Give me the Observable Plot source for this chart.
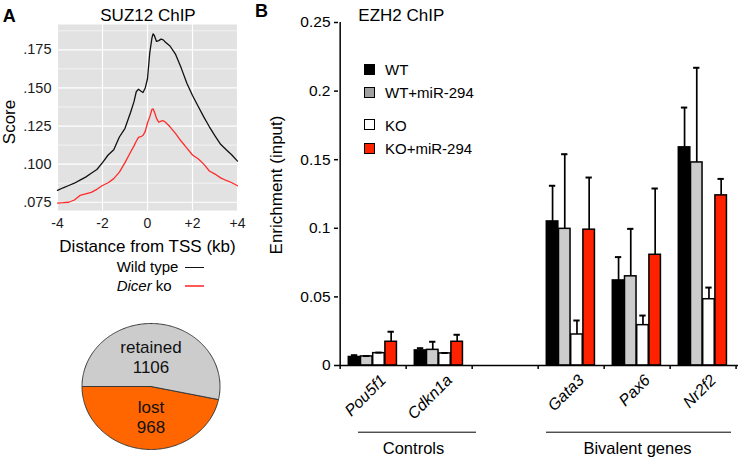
<!DOCTYPE html>
<html><head><meta charset="utf-8">
<script src="https://cdn.jsdelivr.net/npm/d3@7"></script>
<script src="https://cdn.jsdelivr.net/npm/@observablehq/plot@0.6"></script>
<style>
body{margin:0;background:#fff;}
#root{position:relative;width:740px;height:460px;font-family:Arial,"Liberation Sans",sans-serif;color:#000;overflow:hidden;background:#fff}
.t{position:absolute;white-space:nowrap;line-height:1;}
.box{position:absolute;}
</style></head><body><div id="root"></div>
<script>
// ---------- Panel A: SUZ12 ChIP profile ----------
const distKb = [-4,-3.75,-3.5,-3.25,-3,-2.75,-2.5,-2.25,-2,-1.75,-1.5,-1.25,-1,-0.75,-0.6,-0.5,-0.4,-0.3,-0.2,-0.1,0,0.1,0.2,0.25,0.3,0.4,0.5,0.6,0.7,0.8,1,1.25,1.5,1.75,2,2.25,2.5,2.75,3,3.25,3.5,3.75,4];
const wildTypeScore = [0.0828,0.0845,0.0860,0.0875,0.0895,0.0915,0.0940,0.0965,0.1010,0.1060,0.1095,0.1178,0.1235,0.1340,0.1410,0.1475,0.1492,0.1480,0.1470,0.1500,0.1560,0.1730,0.1830,0.1855,0.1845,0.1805,0.1810,0.1820,0.1815,0.1800,0.1775,0.1720,0.1630,0.1530,0.1450,0.1380,0.1310,0.1245,0.1185,0.1130,0.1095,0.1060,0.1020];
const dicerKoScore = [0.0745,0.0747,0.0750,0.0765,0.0795,0.0805,0.0815,0.0835,0.0860,0.0878,0.0905,0.0948,0.1010,0.1080,0.1120,0.1150,0.1176,0.1180,0.1188,0.1215,0.1270,0.1310,0.1360,0.1362,0.1345,0.1300,0.1275,0.1282,0.1285,0.1275,0.1245,0.1200,0.1150,0.1105,0.1060,0.1035,0.1000,0.0955,0.0935,0.0910,0.0893,0.0878,0.0858];
const yTicksA = [0.075,0.1,0.125,0.15,0.175];
const yTickLabelsA = [".075",".100",".125",".150",".175"];
const yMinorA = [0.0875,0.1125,0.1375,0.1625,0.1875];
const xTicksA = [-4,-2,0,2,4];
const xTickLabelsA = ["-4","-2","0","+2","+4"];

// ---------- Pie ----------
const pieLabels = ["lost","retained"];
const pieValues = [968,1106];
const pieColors = ["#ff6600","#cccccc"];

// ---------- Panel B: EZH2 ChIP ----------
const slots = ["Pou5f1","Cdkn1a"," ","Gata3","Pax6","Nr2f2"];
const genes = ["Pou5f1","Cdkn1a","Gata3","Pax6","Nr2f2"];
const conditions = ["WT","WT+miR-294","KO","KO+miR-294"];
const wtVals     = [0.0062,0.0110,0.1050,0.0620,0.1590];
const wtMirVals  = [0.0066,0.0114,0.0996,0.0650,0.1480];
const koVals     = [0.0090,0.0088,0.0226,0.0294,0.0483];
const koMirVals  = [0.0173,0.0173,0.0990,0.0807,0.1240];
const wtErr      = [0.0013,0.0016,0.0260,0.0170,0.0290];
const wtMirErr   = [0.0003,0.0059,0.0544,0.0346,0.0690];
const koErr      = [0.0004,0.0003,0.0102,0.0070,0.0085];
const koMirErr   = [0.0073,0.0051,0.0380,0.0483,0.0120];
const barFills = ["#000000","#cccccc","#ffffff","#ff2200"];
const legendFills = ["#000000","#a0a0a0","#ffffff","#ff2200"];
const yTicksB = [0,0.05,0.1,0.15,0.2,0.25];
const groupNames = ["Controls","Bivalent genes"];
const groupFirst = ["Pou5f1","Gata3"];
const groupLast = ["Cdkn1a","Nr2f2"];
const groupLabelAt = ["Cdkn1a","Pax6"];

const FONT = 'Arial, "Liberation Sans", sans-serif';
const root = document.getElementById("root");

function txt(str, x, baseline, fs, opt = {}) {
  const d = document.createElement("div");
  d.className = "t";
  d.innerHTML = str;
  d.style.fontSize = fs + "px";
  d.style.left = x + "px";
  d.style.top = (baseline - 0.8465 * fs) + "px";
  if (opt.bold) d.style.fontWeight = "bold";
  if (opt.anchor === "middle") d.style.transform = "translateX(-50%)";
  if (opt.anchor === "end") d.style.transform = "translateX(-100%)";
  root.appendChild(d);
  return d;
}
function vtxt(str, cx, cy, fs) {
  const d = document.createElement("div");
  d.className = "t";
  d.textContent = str;
  d.style.fontSize = fs + "px";
  d.style.left = cx + "px";
  d.style.top = cy + "px";
  d.style.transform = "translate(-50%,-50%) rotate(-90deg)";
  root.appendChild(d);
}
function place(el, left, top) {
  const w = document.createElement("div");
  w.className = "box";
  w.style.left = left + "px";
  w.style.top = top + "px";
  w.appendChild(el);
  root.appendChild(w);
}
function hline(x1, x2, y, color, sw) {
  const d = document.createElement("div");
  d.className = "box";
  d.style.left = x1 + "px";
  d.style.width = (x2 - x1) + "px";
  d.style.top = (y - sw / 2) + "px";
  d.style.height = sw + "px";
  d.style.background = color;
  root.appendChild(d);
}

// ----- Panel A line chart -----
const profile = distKb.map((k, i) => ({k, wt: wildTypeScore[i], ko: dicerKoScore[i]}));
const plotA = Plot.plot({
  width: 245, height: 232,
  marginLeft: 57, marginRight: 8, marginTop: 24, marginBottom: 22,
  x: {domain: [-4, 4]},
  y: {domain: [0.0696, 0.1916]},
  style: {fontSize: "14.5px", fontFamily: FONT, color: "#1a1a1a", background: "transparent", overflow: "visible"},
  marks: [
    Plot.frame({fill: "#e2e2e2", stroke: "none"}),
    Plot.ruleY(yMinorA, {stroke: "white", strokeWidth: 0.6}),
    Plot.ruleY(yTicksA, {stroke: "white", strokeWidth: 1.2}),
    Plot.ruleX(xTicksA, {stroke: "white", strokeWidth: 1.2}),
    Plot.line(profile, {x: "k", y: "wt", stroke: "#111", strokeWidth: 1.3}),
    Plot.line(profile, {x: "k", y: "ko", stroke: "#ff2a2a", strokeWidth: 1.3}),
    Plot.axisY({ticks: yTicksA, tickSize: 0, tickPadding: 6, label: null,
      tickFormat: d => yTickLabelsA[yTicksA.indexOf(d)]}),
    Plot.axisX({ticks: xTicksA, tickSize: 0, tickPadding: 8, label: null, fontSize: 14,
      tickFormat: d => xTickLabelsA[xTicksA.indexOf(d)]})
  ]
});
place(plotA, 0, 0);

// ----- Pie -----
const total = d3.sum(pieValues);
const pieStart = Math.PI; // boundary on the left
let acc = pieStart;
const slices = pieValues.map((v, i) => {
  const a0 = acc, a1 = acc + 2 * Math.PI * v / total;
  acc = a1;
  const pts = [{x: 0, y: 0}];
  const n = Math.max(2, Math.ceil((a1 - a0) / (Math.PI / 180)));
  for (let j = 0; j <= n; j++) {
    const a = a0 + (a1 - a0) * j / n;
    pts.push({x: Math.cos(a), y: Math.sin(a)});
  }
  pts.push({x: 0, y: 0});
  const mid = (a0 + a1) / 2;
  return {pts, label: pieLabels[i] + "\n" + pieValues[i], lx: 0, ly: Math.sin(mid) * 0.48, color: pieColors[i]};
});
const plotPie = Plot.plot({
  width: 245, height: 160, margin: 0,
  x: {domain: [-1, 1], range: [81.5, 219.5], axis: null},
  y: {domain: [-1, 1], range: [149, 23], axis: null},
  style: {fontFamily: FONT, color: "#000", background: "transparent", overflow: "visible"},
  marks: [
    ...slices.map(s => Plot.line(s.pts, {x: "x", y: "y", fill: s.color, stroke: "#3a3a3a", strokeWidth: 1})),
    Plot.text(slices, {x: "lx", y: "ly", text: "label", fontSize: 17, lineHeight: 1.2, fill: "#111"})
  ]
});
place(plotPie, 0, 300);

// ----- Panel B bar chart -----
const seriesVals = [wtVals, wtMirVals, koVals, koMirVals];
const seriesErr = [wtErr, wtMirErr, koErr, koMirErr];
const rows = [];
genes.forEach((g, gi) => conditions.forEach((c, ci) =>
  rows.push({gene: g, cond: c, ci, v: seriesVals[ci][gi], top: seriesVals[ci][gi] + seriesErr[ci][gi]})));
const innerW = 490 - 88 - 2;
const bw = innerW / slots.length;
const s0 = 8.3, bwBar = 12.2;
const barMarks = [], errMarks = [];
conditions.forEach((c, ci) => {
  const data = rows.filter(d => d.ci === ci);
  const center = s0 + bwBar * (ci + 0.5);
  errMarks.push(Plot.ruleX(data, {x: "gene", y1: "v", y2: "top", dx: center - bw / 2, stroke: "#000", strokeWidth: 1.7}));
  errMarks.push(Plot.tickY(data, {x: "gene", y: "top", insetLeft: center - 3.5, insetRight: bw - center - 3.5, stroke: "#000", strokeWidth: 2}));
  barMarks.push(Plot.barY(data, {x: "gene", y1: 0, y2: "v", fill: barFills[ci], stroke: "#000", strokeWidth: 1.5,
    insetLeft: s0 + bwBar * ci, insetRight: bw - s0 - bwBar * (ci + 1)}));
});
const groups = groupNames.map((n, i) => ({name: n, first: groupFirst[i], last: groupLast[i], at: groupLabelAt[i]}));
const ctrl = groups.filter(g => g.name === "Controls");
const biv = groups.filter(g => g.name !== "Controls");
const plotB = Plot.plot({
  width: 490, height: 460,
  marginLeft: 88, marginRight: 2, marginTop: 22, marginBottom: 95,
  x: {type: "band", domain: slots, padding: 0, axis: null},
  y: {domain: [0, 0.25]},
  style: {fontSize: "15.5px", fontFamily: FONT, color: "#000", background: "transparent", overflow: "visible"},
  marks: [
    ...barMarks,
    ...errMarks,
    Plot.ruleY([0], {stroke: "#000", strokeWidth: 1.5}),
    Plot.ruleX([slots[0]], {x: d => d, y1: 0, y2: 0.25, dx: -bw / 2, stroke: "#000", strokeWidth: 1.5}),
    Plot.ruleX(slots, {x: d => d, y1: 0, y2: -0.003, dx: -bw / 2, stroke: "#000", strokeWidth: 1.5}),
    Plot.ruleX([slots[slots.length - 1]], {x: d => d, y1: 0, y2: -0.003, dx: bw / 2 - 0.75, stroke: "#000", strokeWidth: 1.5}),
    Plot.axisY({ticks: yTicksB, tickSize: 4, tickPadding: 4, label: null, strokeWidth: 1.5,
      tickFormat: d => String(d)}),
    Plot.text(genes, {x: d => d, y: 0, dy: 12, dx: 10, rotate: -45, textAnchor: "end", fontStyle: "italic", fontSize: 16}),
    Plot.ruleY(ctrl, {x1: "first", x2: "last", y: 0, dy: 66.7, insetLeft: 18, insetRight: -4, stroke: "#000", strokeWidth: 1}),
    Plot.ruleY(biv, {x1: "first", x2: "last", y: 0, dy: 66.7, insetLeft: 8, insetRight: 5, stroke: "#000", strokeWidth: 1}),
    Plot.text(ctrl, {x: "at", y: 0, dy: 88.5, dx: -26, text: "name", lineAnchor: "bottom", fontSize: 16.5}),
    Plot.text(biv, {x: "at", y: 0, dy: 88.5, text: "name", lineAnchor: "bottom", fontSize: 16.5})
  ]
});
place(plotB, 250, 0);

// ----- Texts -----
txt("A", 2.7, 22.5, 18, {bold: true});
txt("SUZ12 ChIP", 148, 21.7, 17, {anchor: "middle"});
vtxt("Score", 9.2, 122, 17);
txt("Distance from TSS (kb)", 147.5, 252, 17, {anchor: "middle"});
txt("Wild type", 116.7, 272, 15);
txt("<i>Dicer</i> ko", 116.7, 291, 15);
hline(185, 204, 267.3, "#111", 1.5);
hline(185, 204, 285.7, "#ff5a5a", 2);

txt("B", 255, 17.5, 18, {bold: true});
txt("EZH2 ChIP", 358.3, 21.7, 17);
vtxt("Enrichment (input)", 275.5, 185, 17);
const legY = [69, 92, 124.3, 148];
conditions.forEach((c, i) => {
  const sq = document.createElement("div");
  sq.className = "box";
  sq.style.left = "363.5px";
  sq.style.top = (legY[i] - 5.5) + "px";
  sq.style.width = "11px"; sq.style.height = "11px";
  sq.style.boxSizing = "border-box";
  sq.style.border = "1.5px solid #000";
  sq.style.background = legendFills[i];
  root.appendChild(sq);
  txt(c, 385, legY[i] + 6, 15);
});
</script></body></html>
